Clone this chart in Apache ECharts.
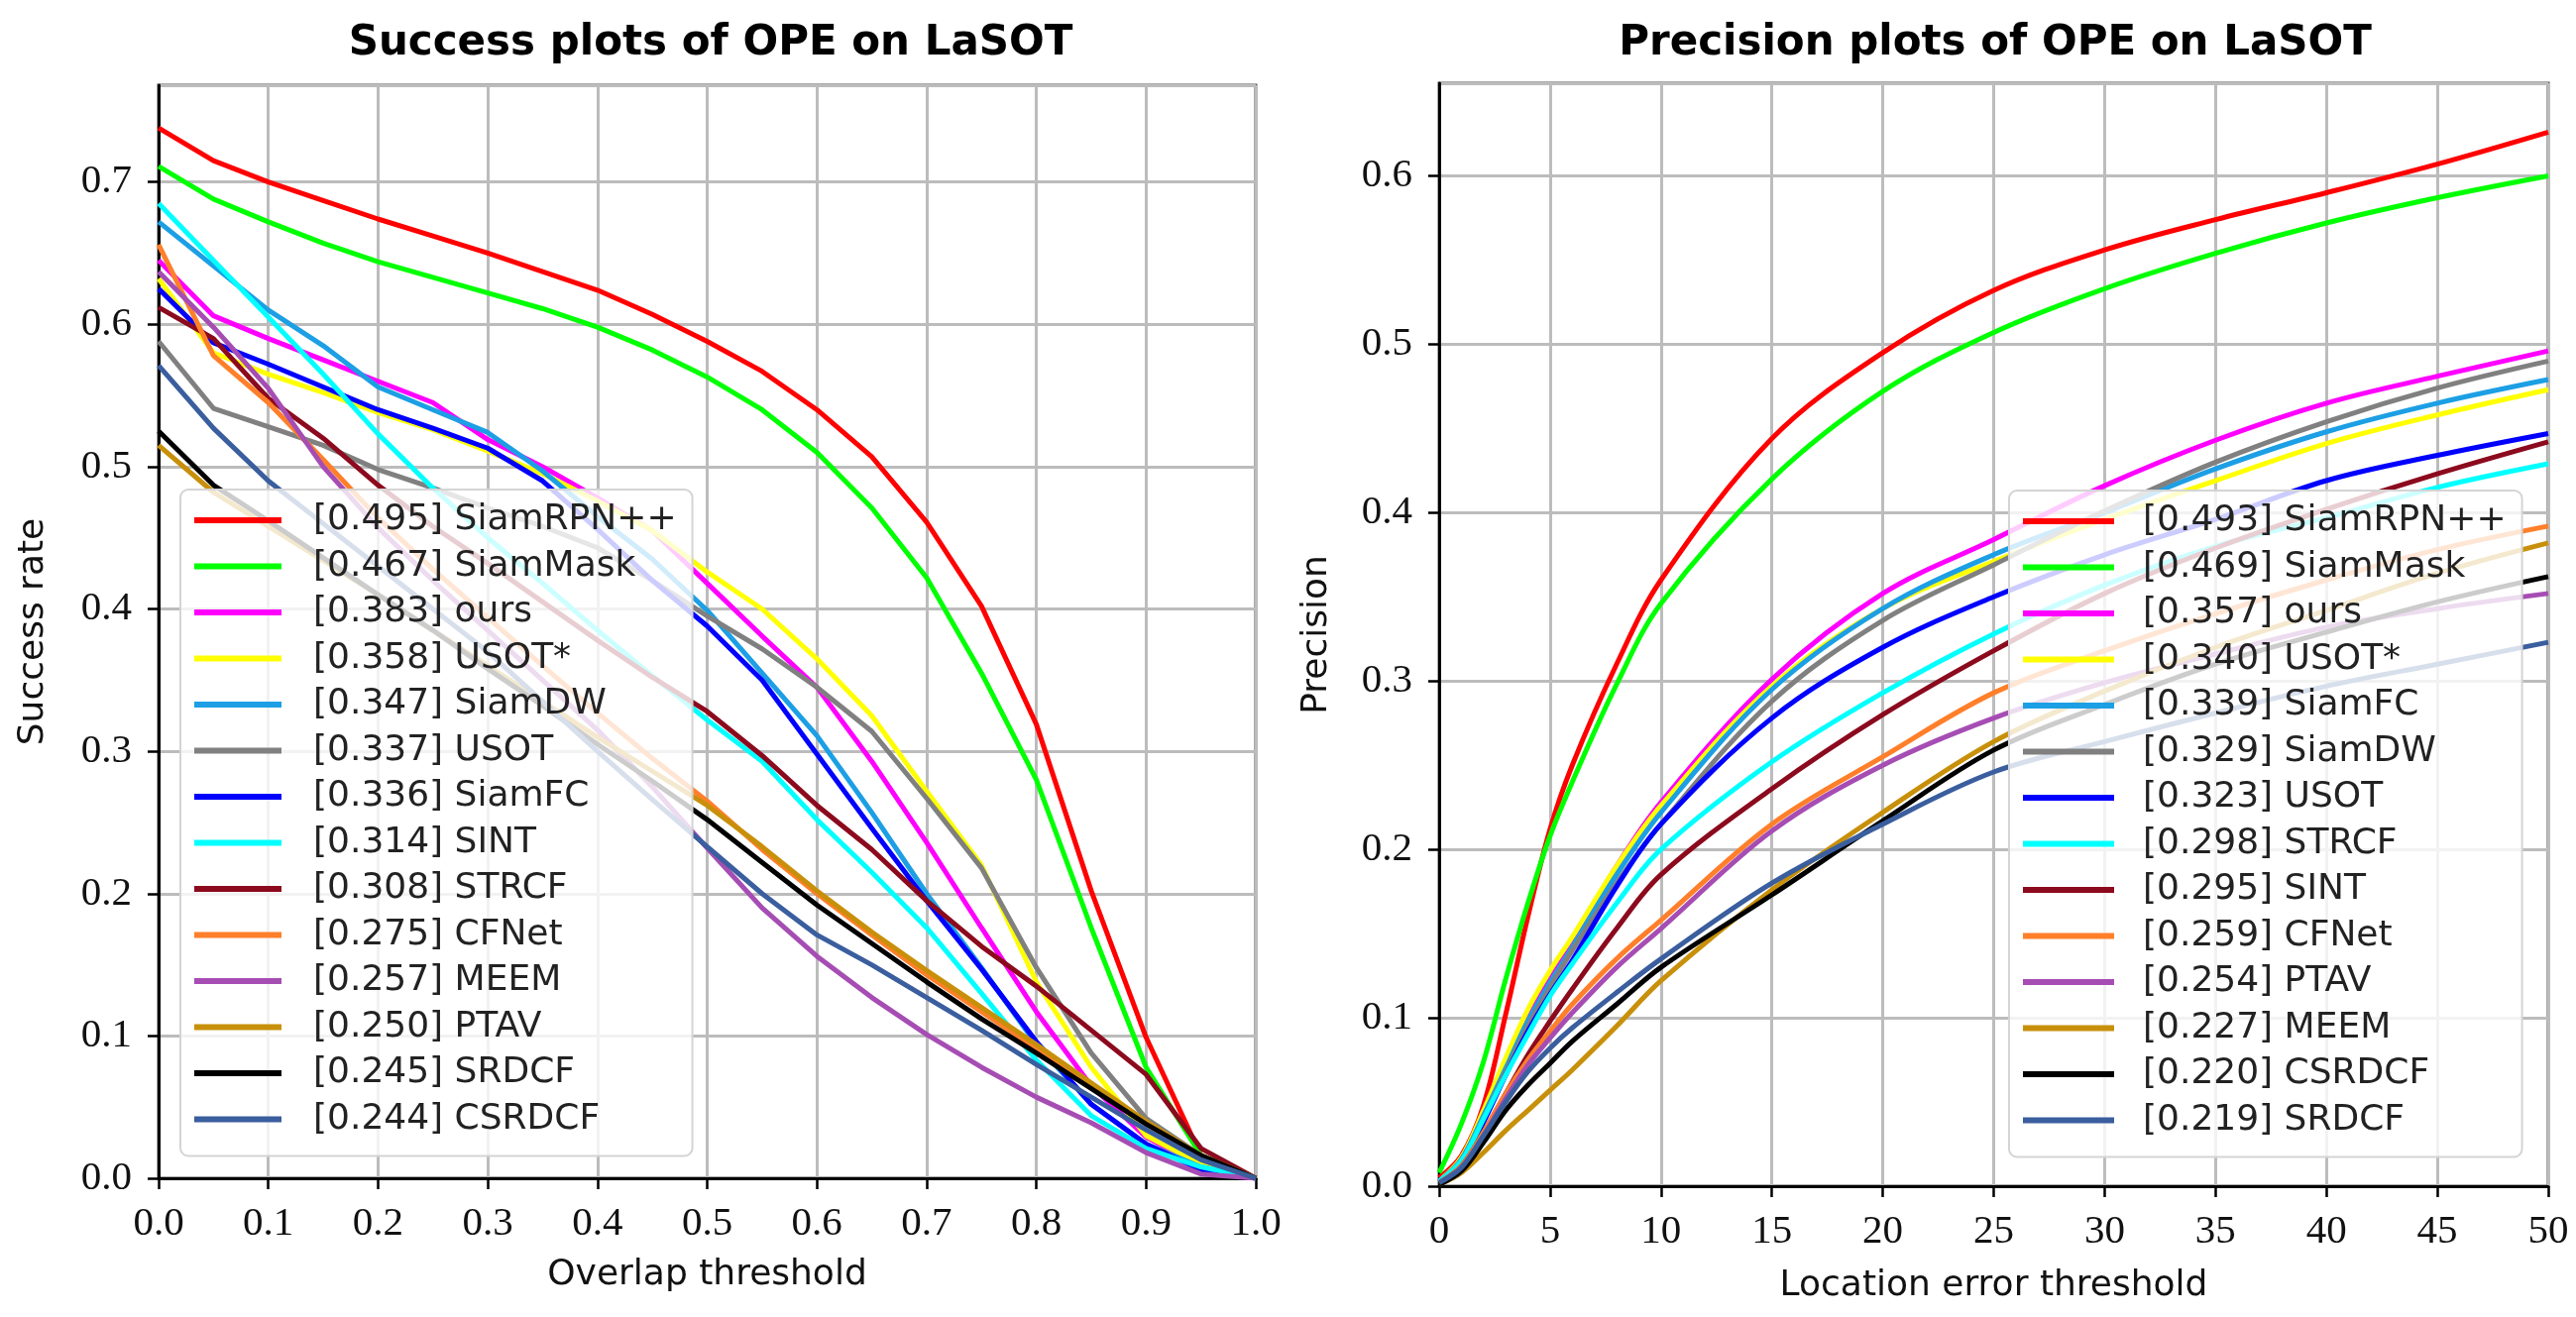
<!DOCTYPE html>
<html>
<head>
<meta charset="utf-8">
<script src="https://cdn.jsdelivr.net/npm/echarts@6/dist/echarts.min.js"></script>
<style>
  html, body { margin: 0; padding: 0; background: #fff; }
  #main { width: 2599px; height: 1329px; }
</style>
</head>
<body>
<div id="main"></div>
<script>
// success plot: overlap thresholds
var succX = [0, 0.05, 0.1, 0.15, 0.2, 0.25, 0.3, 0.35, 0.4, 0.45, 0.5, 0.55, 0.6, 0.65, 0.7, 0.75, 0.8, 0.85, 0.9, 0.95, 1.0];
var succNames = ['[0.495] SiamRPN++', '[0.467] SiamMask', '[0.383] ours', '[0.358] USOT*', '[0.347] SiamDW', '[0.337] USOT', '[0.336] SiamFC',
                 '[0.314] SINT', '[0.308] STRCF', '[0.275] CFNet', '[0.257] MEEM', '[0.250] PTAV', '[0.245] SRDCF', '[0.244] CSRDCF'];
var sRPN    = [0.738, 0.715, 0.700, 0.687, 0.674, 0.662, 0.650, 0.637, 0.624, 0.607, 0.588, 0.567, 0.540, 0.507, 0.461, 0.402, 0.319, 0.202, 0.099, 0.016, 0.0];
var sMask   = [0.711, 0.688, 0.672, 0.657, 0.644, 0.633, 0.622, 0.611, 0.598, 0.582, 0.563, 0.540, 0.510, 0.471, 0.422, 0.355, 0.280, 0.176, 0.078, 0.016, 0.0];
var sOurs   = [0.645, 0.606, 0.590, 0.575, 0.560, 0.545, 0.519, 0.500, 0.478, 0.455, 0.418, 0.381, 0.345, 0.293, 0.236, 0.176, 0.117, 0.065, 0.029, 0.008, 0.0];
var sUsotS  = [0.632, 0.580, 0.565, 0.552, 0.538, 0.526, 0.511, 0.495, 0.476, 0.455, 0.426, 0.400, 0.365, 0.325, 0.272, 0.220, 0.138, 0.078, 0.030, 0.010, 0.0];
var sDW     = [0.672, 0.641, 0.610, 0.585, 0.556, 0.540, 0.524, 0.497, 0.465, 0.435, 0.399, 0.355, 0.311, 0.257, 0.200, 0.148, 0.094, 0.052, 0.024, 0.008, 0.0];
var sUsot   = [0.588, 0.541, 0.528, 0.515, 0.498, 0.485, 0.471, 0.458, 0.443, 0.420, 0.395, 0.372, 0.345, 0.314, 0.267, 0.218, 0.148, 0.088, 0.042, 0.016, 0.0];
var sFC     = [0.625, 0.587, 0.572, 0.556, 0.540, 0.527, 0.513, 0.490, 0.456, 0.420, 0.388, 0.350, 0.298, 0.246, 0.195, 0.147, 0.096, 0.052, 0.024, 0.006, 0.0];
var sSint   = [0.685, 0.645, 0.605, 0.565, 0.523, 0.485, 0.450, 0.418, 0.385, 0.353, 0.322, 0.293, 0.252, 0.215, 0.176, 0.130, 0.083, 0.044, 0.021, 0.008, 0.0];
var sStrcf  = [0.612, 0.590, 0.548, 0.520, 0.487, 0.458, 0.432, 0.405, 0.378, 0.352, 0.328, 0.297, 0.262, 0.231, 0.195, 0.163, 0.135, 0.104, 0.073, 0.021, 0.0];
var sCfnet  = [0.656, 0.578, 0.545, 0.505, 0.464, 0.428, 0.394, 0.360, 0.327, 0.295, 0.265, 0.231, 0.200, 0.171, 0.143, 0.117, 0.091, 0.065, 0.039, 0.016, 0.0];
var sMeem   = [0.637, 0.598, 0.555, 0.500, 0.457, 0.420, 0.385, 0.350, 0.315, 0.275, 0.232, 0.190, 0.156, 0.127, 0.101, 0.078, 0.057, 0.039, 0.018, 0.003, 0.0];
var sPtav   = [0.515, 0.482, 0.458, 0.434, 0.410, 0.385, 0.360, 0.335, 0.310, 0.286, 0.262, 0.233, 0.202, 0.173, 0.146, 0.120, 0.094, 0.067, 0.040, 0.016, 0.0];
var sSrdcf  = [0.525, 0.487, 0.462, 0.436, 0.410, 0.385, 0.358, 0.332, 0.305, 0.279, 0.252, 0.222, 0.192, 0.165, 0.138, 0.112, 0.088, 0.063, 0.038, 0.016, 0.0];
var sCsrdcf = [0.571, 0.527, 0.490, 0.460, 0.430, 0.400, 0.370, 0.335, 0.300, 0.266, 0.233, 0.200, 0.171, 0.150, 0.127, 0.104, 0.080, 0.057, 0.034, 0.013, 0.0];
var succSeries = [sRPN, sMask, sOurs, sUsotS, sDW, sUsot, sFC, sSint, sStrcf, sCfnet, sMeem, sPtav, sSrdcf, sCsrdcf];

// precision plot: location error thresholds
var precX = [0, 1, 2, 3, 4, 5, 6, 8, 10, 15, 20, 25, 30, 35, 40, 45, 50];
var precNames = ['[0.493] SiamRPN++', '[0.469] SiamMask', '[0.357] ours', '[0.340] USOT*', '[0.339] SiamFC', '[0.329] SiamDW', '[0.323] USOT',
                 '[0.298] STRCF', '[0.295] SINT', '[0.259] CFNet', '[0.254] PTAV', '[0.227] MEEM', '[0.220] CSRDCF', '[0.219] SRDCF'];
var pRPN    = [0.005, 0.018, 0.048, 0.102, 0.160, 0.212, 0.250, 0.310, 0.360, 0.444, 0.495, 0.532, 0.556, 0.574, 0.590, 0.607, 0.626];
var pMask   = [0.008, 0.037, 0.074, 0.123, 0.168, 0.208, 0.240, 0.298, 0.346, 0.420, 0.472, 0.507, 0.533, 0.554, 0.572, 0.587, 0.600];
var pOurs   = [0.003, 0.016, 0.042, 0.072, 0.100, 0.123, 0.145, 0.190, 0.228, 0.301, 0.352, 0.384, 0.416, 0.443, 0.465, 0.481, 0.496];
var pUsotS  = [0.003, 0.017, 0.045, 0.076, 0.105, 0.128, 0.148, 0.190, 0.226, 0.297, 0.343, 0.371, 0.396, 0.419, 0.441, 0.458, 0.473];
var pFC     = [0.003, 0.016, 0.042, 0.070, 0.098, 0.121, 0.142, 0.185, 0.222, 0.295, 0.343, 0.375, 0.400, 0.426, 0.448, 0.465, 0.479];
var pDW     = [0.003, 0.015, 0.040, 0.068, 0.095, 0.118, 0.140, 0.180, 0.215, 0.288, 0.336, 0.369, 0.401, 0.430, 0.454, 0.474, 0.490];
var pUsot   = [0.003, 0.014, 0.038, 0.066, 0.092, 0.114, 0.134, 0.178, 0.215, 0.278, 0.320, 0.350, 0.375, 0.396, 0.419, 0.434, 0.447];
var pStrcf  = [0.003, 0.015, 0.040, 0.066, 0.090, 0.113, 0.132, 0.168, 0.200, 0.252, 0.293, 0.328, 0.357, 0.380, 0.397, 0.415, 0.429];
var pSint   = [0.002, 0.012, 0.032, 0.055, 0.078, 0.098, 0.117, 0.153, 0.185, 0.236, 0.280, 0.318, 0.352, 0.379, 0.402, 0.423, 0.442];
var pCfnet  = [0.002, 0.012, 0.032, 0.055, 0.075, 0.092, 0.108, 0.135, 0.158, 0.215, 0.255, 0.293, 0.318, 0.340, 0.360, 0.378, 0.392];
var pPtav   = [0.002, 0.011, 0.030, 0.052, 0.072, 0.088, 0.103, 0.130, 0.153, 0.211, 0.250, 0.278, 0.299, 0.316, 0.332, 0.343, 0.352];
var pMeem   = [0.001, 0.008, 0.020, 0.033, 0.045, 0.057, 0.069, 0.095, 0.122, 0.176, 0.222, 0.264, 0.294, 0.320, 0.342, 0.364, 0.382];
var pCsrdcf = [0.001, 0.009, 0.026, 0.045, 0.060, 0.073, 0.086, 0.108, 0.130, 0.173, 0.217, 0.259, 0.286, 0.310, 0.329, 0.347, 0.362];
var pSrdcf  = [0.002, 0.011, 0.030, 0.050, 0.068, 0.082, 0.094, 0.115, 0.135, 0.180, 0.215, 0.246, 0.264, 0.281, 0.297, 0.310, 0.323];
var precSeries = [pRPN, pMask, pOurs, pUsotS, pFC, pDW, pUsot, pStrcf, pSint, pCfnet, pPtav, pMeem, pCsrdcf, pSrdcf];

// colours go by rank in each legend
var rankColors = ['#ff0000', '#00ff00', '#ff00ff', '#ffff00', '#1c9fe4', '#808080', '#0000ff',
                  '#00ffff', '#8c0a1e', '#ff7f2a', '#a64db4', '#c8900a', '#000000', '#3a5e9e'];

var tickFont = { fontFamily: 'Liberation Serif', fontSize: 41, color: '#111' };
var nameFont = { fontFamily: 'DejaVu Sans', fontSize: 36, color: '#111' };

function pairs(xs, ys) {
    var out = [];
    for (var i = 0; i < xs.length; i++) out.push([xs[i], ys[i]]);
    return out;
}

function valueAxis(gridIndex, min, max, interval, digits, name, gap, isY) {
    return {
        type: 'value', gridIndex: gridIndex, min: min, max: max, interval: interval,
        name: name, nameLocation: 'middle', nameGap: gap, nameTextStyle: nameFont,
        axisLine: { show: true, onZero: false, lineStyle: { color: '#000', width: 3 } },
        axisTick: { show: true, length: 11, lineStyle: { color: '#000', width: 2.5 } },
        axisLabel: Object.assign({ margin: isY ? 27 : 26, showMaxLabel: !isY,
            formatter: function (v) { return v.toFixed(digits); } }, tickFont),
        splitLine: { show: true, lineStyle: { color: '#bcbcbc', width: 3 } }
    };
}

var series = [];
succSeries.forEach(function (ys, i) {
    series.push({
        name: succNames[i], type: 'line', xAxisIndex: 0, yAxisIndex: 0,
        data: pairs(succX, ys), showSymbol: false, symbol: 'none',
        lineStyle: { width: 5, color: rankColors[i] }, itemStyle: { color: rankColors[i] }
    });
});
precSeries.forEach(function (ys, i) {
    series.push({
        name: precNames[i], type: 'line', xAxisIndex: 1, yAxisIndex: 1, smooth: 0.35,
        data: pairs(precX, ys), showSymbol: false, symbol: 'none',
        lineStyle: { width: 5, color: rankColors[i] }, itemStyle: { color: rankColors[i] }
    });
});

function legendBox(names, left, top, iconW, textPad) {
    return {
        data: names, orient: 'vertical', left: left, top: top,
        icon: 'rect', itemWidth: iconW, itemHeight: 6, itemGap: 6.5,
        padding: [11, 16, 17, 14],
        backgroundColor: 'rgba(255,255,255,0.8)', borderColor: '#d4d4d4', borderWidth: 2, borderRadius: 8,
        selectedMode: false,
        textStyle: { fontFamily: 'DejaVu Sans', fontSize: 36, lineHeight: 40, color: '#222', padding: [0, 0, 0, textPad] },
        z: 10
    };
}

var myChart = echarts.init(document.getElementById('main'));
var option = {
    backgroundColor: '#fff',
    animation: false,
    title: [
        { text: 'Success plots of OPE on LaSOT', left: 712, top: 18, textAlign: 'center',
          textStyle: { fontFamily: 'DejaVu Sans', fontWeight: 'bold', fontSize: 42, color: '#000' } },
        { text: 'Precision plots of OPE on LaSOT', left: 2008, top: 18, textAlign: 'center',
          textStyle: { fontFamily: 'DejaVu Sans', fontWeight: 'bold', fontSize: 42, color: '#000' } }
    ],
    grid: [
        { left: 160, top: 86, width: 1107, height: 1103, show: true, borderColor: '#555', borderWidth: 3 },
        { left: 1452, top: 84, width: 1119, height: 1113, show: true, borderColor: '#555', borderWidth: 3 }
    ],
    xAxis: [
        valueAxis(0, 0, 1, 0.1, 1, 'Overlap threshold', 80, false),
        valueAxis(1, 0, 50, 5, 0, 'Location error threshold', 83, false)
    ],
    yAxis: [
        valueAxis(0, 0, 0.768, 0.1, 1, 'Success rate', 108, true),
        valueAxis(1, 0, 0.655, 0.1, 1, 'Precision', 105, true)
    ],
    legend: [
        legendBox(succNames, 182, 494, 88, 27),
        legendBox(precNames, 2027, 495, 92, 24)
    ],
    series: series
};
myChart.setOption(option);
</script>
</body>
</html>
